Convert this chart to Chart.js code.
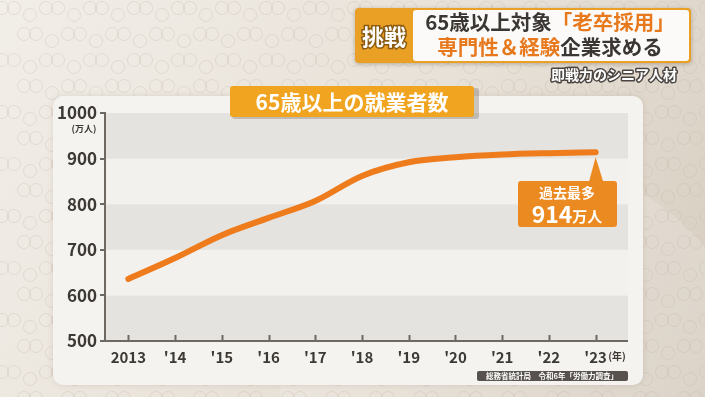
<!DOCTYPE html>
<html>
<head>
<meta charset="utf-8">
<script src="https://cdn.jsdelivr.net/npm/chart.js@4"></script>
<style>
html,body{margin:0;padding:0;background:#e6dfd6;}
canvas{display:block;}
</style>
</head>
<body>
<canvas id="myChart" width="705" height="397"></canvas>
<script>
// 65歳以上の就業者数 (万人)
const years = [2013, 2014, 2015, 2016, 2017, 2018, 2019, 2020, 2021, 2022, 2023];
const workers = [636, 682, 732, 770, 807, 862, 892, 903, 909, 912, 914];
const yTicks = [500, 600, 700, 800, 900, 1000];
const xLabels = ["2013", "'14", "'15", "'16", "'17", "'18", "'19", "'20", "'21", "'22", "'23"];

const FONT = '"Noto Sans CJK JP", "Noto Sans", sans-serif';
const ORANGE = '#ee7b1c';
const AXIS = '#6e6862';
const TXT = '#3d3935';

function rrect(ctx, x, y, w, h, r) {
    ctx.beginPath();
    ctx.moveTo(x + r, y);
    ctx.arcTo(x + w, y, x + w, y + h, r);
    ctx.arcTo(x + w, y + h, x, y + h, r);
    ctx.arcTo(x, y + h, x, y, r);
    ctx.arcTo(x, y, x + w, y, r);
    ctx.closePath();
}

const backdrop = {
    id: 'backdrop',
    beforeDraw(chart) {
        const ctx = chart.ctx, W = chart.width, H = chart.height;
        const ys = chart.scales.y, area = chart.chartArea;
        ctx.save();
        let g = ctx.createLinearGradient(0, 0, W, H);
        g.addColorStop(0, '#f2eee8');
        g.addColorStop(0.6, '#e6dfd5');
        g.addColorStop(1, '#d6ccbf');
        ctx.fillStyle = g;
        ctx.fillRect(0, 0, W, H);
        // big soft circle on the right
        ctx.fillStyle = 'rgba(255,255,255,0.15)';
        ctx.beginPath();
        ctx.arc(520, 400, 240, 0, Math.PI * 2);
        ctx.fill();
        // ring pattern
        ctx.strokeStyle = 'rgba(190,175,160,0.28)';
        ctx.lineWidth = 1;
        for (let j = 0; j < 17; j++) {
            for (let i = 0; i < 17; i++) {
                const x = i * 44 + (j % 2) * 22 + 8, y = j * 26 + 8;
                ctx.beginPath(); ctx.arc(x - 6, y, 6.5, 0, Math.PI * 2); ctx.stroke();
                ctx.beginPath(); ctx.arc(x + 6, y, 6.5, 0, Math.PI * 2); ctx.stroke();
                ctx.beginPath(); ctx.arc(x + 22, y + 7, 6.5, 0, Math.PI * 2); ctx.stroke();
            }
        }
        // card
        ctx.shadowColor = 'rgba(120,100,80,0.18)';
        ctx.shadowBlur = 6;
        ctx.fillStyle = '#f5f3ef';
        rrect(ctx, 53, 96, 590, 289, 10);
        ctx.fill();
        ctx.shadowColor = 'transparent';
        // bands
        for (let k = 0; k < yTicks.length - 1; k++) {
            const top = ys.getPixelForValue(yTicks[k + 1]);
            const bot = ys.getPixelForValue(yTicks[k]);
            ctx.fillStyle = (k % 2 === 0) ? '#e5e3df' : '#f3f1ed';
            ctx.fillRect(area.left, top, 628 - area.left, bot - top);
        }
        ctx.restore();
    },
    afterDraw(chart) {
        const ctx = chart.ctx, xs = chart.scales.x, ys = chart.scales.y, area = chart.chartArea;
        ctx.save();
        // x axis line extension and inner ticks
        ctx.strokeStyle = AXIS;
        ctx.lineWidth = 2;
        ctx.beginPath();
        ctx.moveTo(area.left, area.bottom);
        ctx.lineTo(628, area.bottom);
        ctx.stroke();
        years.forEach(v => {
            const px = Math.round(xs.getPixelForValue(v)) + 0.5;
            ctx.beginPath();
            ctx.moveTo(px, area.bottom);
            ctx.lineTo(px, area.bottom - 6);
            ctx.stroke();
        });
        // units
        ctx.fillStyle = TXT;
        ctx.textAlign = 'center';
        ctx.textBaseline = 'middle';
        ctx.font = 'bold 9px ' + FONT;
        ctx.fillText('(万人)', 84, 129);
        ctx.font = 'bold 10px ' + FONT;
        ctx.fillText('(年)', 617, 356);

        // title box
        ctx.fillStyle = 'rgba(120,110,100,0.35)';
        rrect(ctx, 232, 88, 247, 31, 3); ctx.fill();
        ctx.fillStyle = '#f0a41f';
        rrect(ctx, 230, 86, 244, 31, 3); ctx.fill();
        ctx.fillStyle = '#ffffff';
        ctx.font = 'bold 21px ' + FONT;
        ctx.fillText('65歳以上の就業者数', 352, 102);

        // callout at last point
        const lx = xs.getPixelForValue(years[years.length - 1]);
        const ly = ys.getPixelForValue(workers[workers.length - 1]);
        ctx.fillStyle = '#ec8a22';
        ctx.beginPath();
        ctx.moveTo(lx, ly + 5);
        ctx.lineTo(lx - 7, 183);
        ctx.lineTo(lx + 8, 183);
        ctx.closePath();
        ctx.fill();
        rrect(ctx, 518, 181, 99, 46, 3); ctx.fill();
        ctx.fillStyle = '#ffffff';
        ctx.font = 'bold 14px ' + FONT;
        ctx.fillText('過去最多', 567, 193);
        ctx.textAlign = 'left';
        ctx.font = 'bold 23px ' + FONT;
        const numW = ctx.measureText('914').width;
        ctx.font = 'bold 15px ' + FONT;
        const unitW = ctx.measureText('万人').width;
        const sx = 567 - (numW + unitW) / 2;
        ctx.font = 'bold 23px ' + FONT;
        ctx.fillText('914', sx, 214);
        ctx.font = 'bold 15px ' + FONT;
        ctx.fillText('万人', sx + numW, 216);

        // source
        ctx.fillStyle = '#57524e';
        rrect(ctx, 477, 371, 151, 10, 2); ctx.fill();
        ctx.fillStyle = '#ffffff';
        ctx.textAlign = 'center';
        ctx.font = 'bold 7.5px ' + FONT;
        ctx.fillText('総務省統計局　令和6年「労働力調査」', 552, 376.5);

        // header
        ctx.shadowColor = 'rgba(90,70,50,0.35)';
        ctx.shadowBlur = 4;
        ctx.shadowOffsetY = 1;
        ctx.fillStyle = '#eaa024';
        rrect(ctx, 355, 8, 336, 55, 4); ctx.fill();
        ctx.shadowColor = 'transparent';
        ctx.fillStyle = '#fbfaf8';
        rrect(ctx, 413, 10, 276, 51, 3); ctx.fill();
        ctx.font = 'bold 22px ' + FONT;
        ctx.lineWidth = 3;
        ctx.strokeStyle = '#8a5a10';
        ctx.strokeText('挑戦', 384, 37);
        ctx.fillStyle = '#ffffff';
        ctx.fillText('挑戦', 384, 37);

        function mixLine(parts, cx, cy, size) {
            ctx.font = 'bold ' + size + 'px ' + FONT;
            const w = parts.reduce((s, p) => s + ctx.measureText(p[0]).width, 0);
            let x = cx - w / 2;
            ctx.textAlign = 'left';
            parts.forEach(p => {
                ctx.fillStyle = p[1];
                ctx.fillText(p[0], x, cy);
                x += ctx.measureText(p[0]).width;
            });
        }
        mixLine([['65歳以上対象', '#3a3633'], ['「老卒採用」', '#e8781c']], 550, 22, 20.5);
        mixLine([['専門性＆経験', '#e8781c'], ['企業求める', '#3a3633']], 550, 47, 20.5);

        // subtitle
        ctx.textAlign = 'center';
        ctx.font = 'bold 14px ' + FONT;
        ctx.lineWidth = 3;
        ctx.strokeStyle = '#4a4541';
        ctx.lineJoin = 'round';
        ctx.strokeText('即戦力のシニア人材', 614, 75);
        ctx.fillStyle = '#ffffff';
        ctx.fillText('即戦力のシニア人材', 614, 75);
        ctx.restore();
    }
};

new Chart(document.getElementById('myChart'), {
    type: 'line',
    data: {
        datasets: [{
            label: '65歳以上の就業者数',
            data: years.map((y, i) => ({x: y, y: workers[i]})),
            borderColor: ORANGE,
            borderWidth: 6,
            borderCapStyle: 'round',
            borderJoinStyle: 'round',
            pointRadius: 0,
            cubicInterpolationMode: 'monotone',
            fill: false
        }]
    },
    options: {
        responsive: false,
        animation: false,
        devicePixelRatio: 1,
        layout: {padding: {left: 0, top: 113, right: 86, bottom: 0}},
        plugins: {legend: {display: false}, tooltip: {enabled: false}},
        scales: {
            x: {
                type: 'linear',
                min: 2012.5,
                max: 2023.5,
                afterFit: s => { s.height = 56; },
                afterBuildTicks: s => { s.ticks = years.map(v => ({value: v})); },
                grid: {display: false, drawTicks: false},
                border: {display: false},
                ticks: {
                    padding: 7,
                    color: TXT,
                    font: {family: FONT, size: 15, weight: 'bold'},
                    maxRotation: 0,
                    autoSkip: false,
                    callback: v => xLabels[years.indexOf(v)]
                }
            },
            y: {
                min: 500,
                max: 1000,
                afterFit: s => { s.width = 105; },
                afterBuildTicks: s => { s.ticks = yTicks.map(v => ({value: v})); },
                grid: {drawOnChartArea: false, drawTicks: true, tickLength: 5, color: AXIS, lineWidth: 2},
                border: {display: true, color: AXIS, width: 2},
                ticks: {
                    padding: 3,
                    color: TXT,
                    font: {family: FONT, size: 17, weight: 'bold'},
                    callback: v => String(v)
                }
            }
        }
    },
    plugins: [backdrop]
});
</script>
</body>
</html>
